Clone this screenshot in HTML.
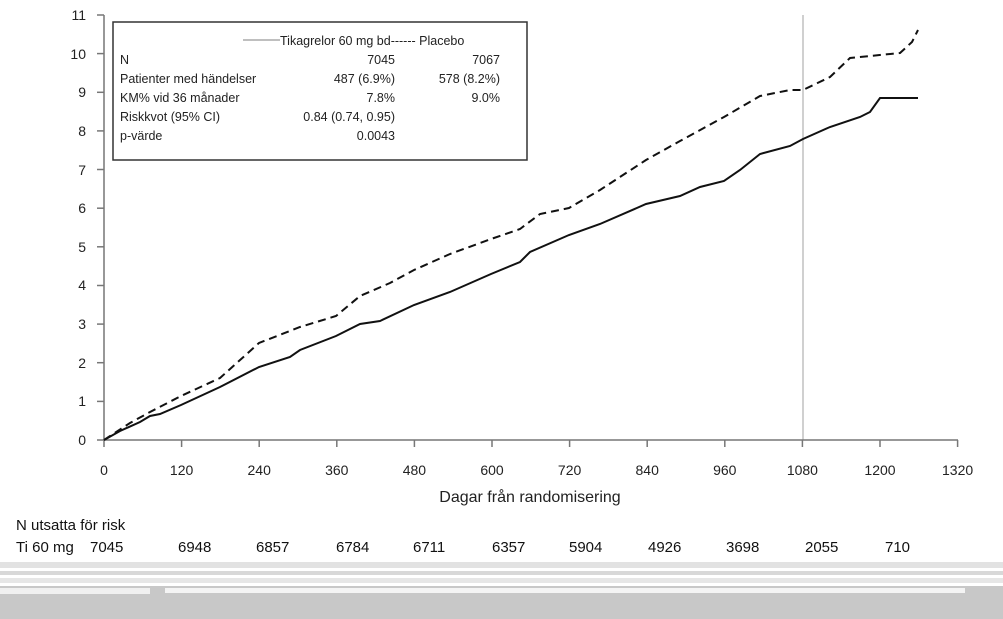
<!DOCTYPE html>
<html><head><meta charset="utf-8"><style>
body{margin:0;background:#fff;width:1003px;height:619px;overflow:hidden;position:relative;font-family:"Liberation Sans",sans-serif}
svg{position:absolute;left:0;top:0}
</style></head><body>
<svg width="1003" height="619" xmlns="http://www.w3.org/2000/svg" font-family="Liberation Sans, sans-serif">
<rect x="0" y="586" width="1003" height="33" fill="#c8c8c8"/>
<rect x="0" y="562" width="1003" height="6" fill="#e2e2e2"/>
<rect x="0" y="571" width="1003" height="4" fill="#d8d8d8"/>
<rect x="0" y="578" width="1003" height="5" fill="#e6e6e6"/>
<rect x="0" y="588" width="150" height="6" fill="#f0f0f0"/>
<rect x="165" y="588" width="800" height="5" fill="#f4f4f4"/>
<line x1="803" y1="15" x2="803" y2="440" stroke="#d0d0d0" stroke-width="2"/>
<g stroke="#777" stroke-width="1.5">
<line x1="104" y1="15" x2="104" y2="440"/>
<line x1="97" y1="440" x2="958" y2="440"/>
</g>
<g stroke="#777" stroke-width="1.5" id="yt">
<line x1="97" x2="104" y1="15" y2="15"/><line x1="97" x2="104" y1="53.6" y2="53.6"/><line x1="97" x2="104" y1="92.3" y2="92.3"/><line x1="97" x2="104" y1="130.9" y2="130.9"/><line x1="97" x2="104" y1="169.5" y2="169.5"/><line x1="97" x2="104" y1="208.2" y2="208.2"/><line x1="97" x2="104" y1="246.8" y2="246.8"/><line x1="97" x2="104" y1="285.5" y2="285.5"/><line x1="97" x2="104" y1="324.1" y2="324.1"/><line x1="97" x2="104" y1="362.7" y2="362.7"/><line x1="97" x2="104" y1="401.4" y2="401.4"/>
<line x1="181.6" x2="181.6" y1="440" y2="447"/><line x1="259.2" x2="259.2" y1="440" y2="447"/><line x1="336.8" x2="336.8" y1="440" y2="447"/><line x1="414.4" x2="414.4" y1="440" y2="447"/><line x1="492" x2="492" y1="440" y2="447"/><line x1="569.6" x2="569.6" y1="440" y2="447"/><line x1="647.2" x2="647.2" y1="440" y2="447"/><line x1="724.8" x2="724.8" y1="440" y2="447"/><line x1="802.4" x2="802.4" y1="440" y2="447"/><line x1="880" x2="880" y1="440" y2="447"/><line x1="957.6" x2="957.6" y1="440" y2="447"/><line x1="104" x2="104" y1="440" y2="447"/>
</g>
<g font-size="14" fill="#222" text-anchor="end">
<text x="86" y="20">11</text><text x="86" y="59">10</text><text x="86" y="97">9</text><text x="86" y="136">8</text><text x="86" y="175">7</text><text x="86" y="213">6</text><text x="86" y="252">5</text><text x="86" y="290">4</text><text x="86" y="329">3</text><text x="86" y="368">2</text><text x="86" y="406">1</text><text x="86" y="445">0</text>
</g>
<g font-size="14" fill="#222" text-anchor="middle">
<text x="104" y="475">0</text><text x="181.6" y="475">120</text><text x="259.2" y="475">240</text><text x="336.8" y="475">360</text><text x="414.4" y="475">480</text><text x="492" y="475">600</text><text x="569.6" y="475">720</text><text x="647.2" y="475">840</text><text x="724.8" y="475">960</text><text x="802.4" y="475">1080</text><text x="880" y="475">1200</text><text x="957.6" y="475">1320</text>
<text x="530" y="502" font-size="16">Dagar från randomisering</text>
</g>
<polyline fill="none" stroke="#111" stroke-width="2" points="104,440 120,431 140,422 150,416 160,414 181,405 220,387 259,367 290,357 300,350 336,336 360,324 380,321 414,305 450,292 491,274 520,262 530,252 569,235 600,224 646,204 680,196 700,187 724,181 740,170 760,154 790,146 803,139 830,127 860,117 870,112 880,98 918,98"/>
<polyline fill="none" stroke="#111" stroke-width="2" stroke-dasharray="8,5" points="104,440 130,423 150,412 181,396 220,378 259,343 300,327 336,316 360,296 390,283 414,270 450,254 491,239 520,229 540,214 569,208 600,190 646,160 680,141 724,117 760,96 790,90 803,90 830,77 850,58 900,53 912,42 918,30"/>
<rect x="113" y="22" width="414" height="138" fill="#fff" stroke="#333" stroke-width="1.5"/>
<line x1="243" y1="40" x2="280" y2="40" stroke="#aaa" stroke-width="1.5"/>
<g font-size="12.5" fill="#222">
<text x="280" y="45">Tikagrelor 60 mg bd------ Placebo</text>
<text x="120" y="64">N</text><text x="120" y="83">Patienter med händelser</text><text x="120" y="102">KM% vid 36 månader</text><text x="120" y="121">Riskkvot (95% CI)</text><text x="120" y="140">p-värde</text>
</g>
<g font-size="12.5" fill="#222" text-anchor="end">
<text x="395" y="64">7045</text><text x="500" y="64">7067</text>
<text x="395" y="83">487 (6.9%)</text><text x="500" y="83">578 (8.2%)</text>
<text x="395" y="102">7.8%</text><text x="500" y="102">9.0%</text>
<text x="395" y="121">0.84 (0.74, 0.95)</text><text x="395" y="140">0.0043</text>
</g>
<text x="16" y="530" font-size="15" fill="#111">N utsatta för risk</text>
<g font-size="15" fill="#111">
<text x="16" y="552">Ti 60 mg</text>
<text x="90" y="552">7045</text><text x="178" y="552">6948</text><text x="256" y="552">6857</text><text x="336" y="552">6784</text><text x="413" y="552">6711</text><text x="492" y="552">6357</text><text x="569" y="552">5904</text><text x="648" y="552">4926</text><text x="726" y="552">3698</text><text x="805" y="552">2055</text><text x="885" y="552">710</text>
</g>
</svg>
</body></html>
